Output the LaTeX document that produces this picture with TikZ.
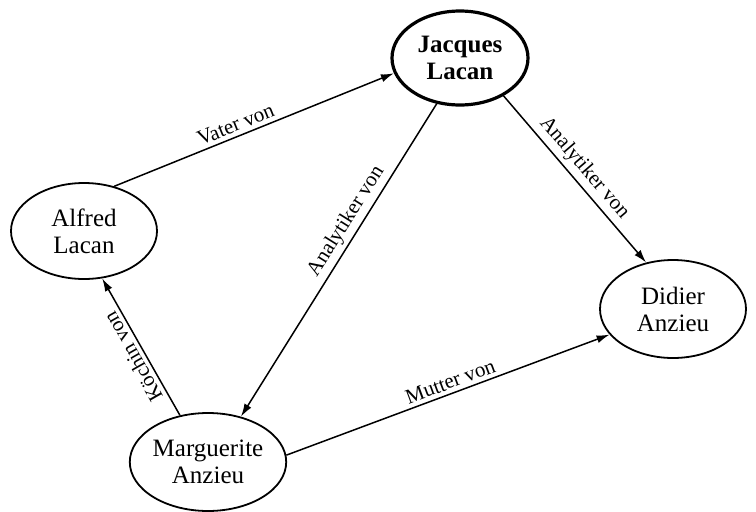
\documentclass[tikz,border=0pt]{standalone}
\usepackage{fontspec}
\setmainfont{Liberation Serif}
\usetikzlibrary{shapes.geometric,arrows.meta}
\begin{document}
\begin{tikzpicture}[x=1pt,y=-1pt,
  person/.style={draw, ellipse, inner sep=0pt, line width=1.8pt, align=center,
    font=\fontsize{25}{27}\selectfont},
  rel/.style={line width=1.5pt, -{Latex[length=13pt,width=8pt]}},
  lab/.style={font=\fontsize{21}{23}\selectfont, sloped, above, inner sep=4pt}]
\useasboundingbox (0,0) rectangle (756,512);
\fill[white] (0,0) rectangle (756,512);
\node[person, line width=3.2pt, minimum width=136pt, minimum height=94pt,
  font=\fontsize{25}{27}\selectfont\bfseries] (jacques) at (460,58) {Jacques\\Lacan};
\node[person, minimum width=146pt, minimum height=96pt] (alfred) at (84,231) {Alfred\\Lacan};
\node[person, minimum width=146pt, minimum height=98pt] (didier) at (673,309) {Didier\\Anzieu};
\node[person, minimum width=148pt, minimum height=98pt] (marg) at (208,462) {Marguerite\\Anzieu};
\draw[rel] (alfred.56) -- node[lab, pos=0.45] {Vater von} (jacques.193);
\draw[rel] (jacques.-41) -- node[lab, pos=0.49] {Analytiker von} (didier.120);
\draw[rel] (jacques.243) -- node[lab, pos=0.40] {Analytiker von} (marg.54);
\draw[rel] (marg.121) -- node[lab, pos=0.47, allow upside down] {Köchin von} (alfred.291);
\draw[rel] (marg.5) -- node[lab, pos=0.52] {Mutter von} (didier.202);
\end{tikzpicture}
\end{document}
